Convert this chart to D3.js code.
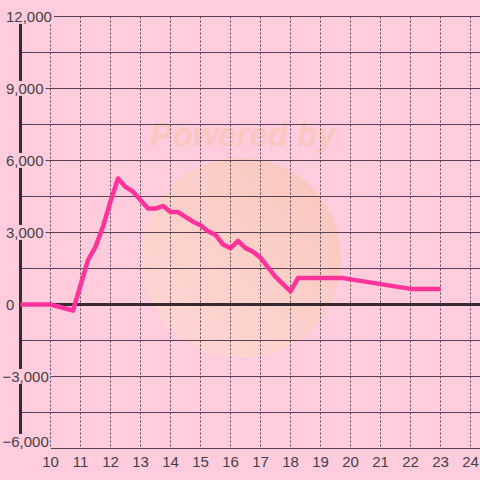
<!DOCTYPE html>
<html><head><meta charset="utf-8">
<script src="https://cdn.jsdelivr.net/npm/d3@7"></script>
<style>html,body{margin:0;padding:0;background:#ffccdd;}svg{display:block;}</style>
</head><body>
<svg id="c" width="480" height="480"></svg>
<script>
const hours = [9, 10, 10.75, 11.25, 11.5, 11.75, 12, 12.25, 12.5, 12.75, 13, 13.25, 13.5, 13.75, 14, 14.25, 14.5, 14.75, 15, 15.25, 15.5, 15.75, 16, 16.25, 16.5, 16.75, 17, 17.25, 17.5, 18, 18.25, 19.75, 20.75, 22, 23];
const values = [0, 0, -250, 1850, 2400, 3250, 4300, 5250, 4900, 4700, 4350, 4000, 4000, 4100, 3850, 3850, 3650, 3450, 3300, 3050, 2900, 2500, 2350, 2650, 2350, 2200, 1950, 1550, 1150, 550, 1100, 1100, 900, 650, 650];
const xTicks = [10, 11, 12, 13, 14, 15, 16, 17, 18, 19, 20, 21, 22, 23, 24];
const yGrid = [12000, 10500, 9000, 7500, 6000, 4500, 3000, 1500, 0, -1500, -3000, -4500, -6000];
const yLabels = [12000, 9000, 6000, 3000, 0, -3000, -6000];

const svg = d3.select("#c");
const x = d3.scaleLinear().domain([9, 10]).range([20.5, 50.5]);
const y = d3.scaleLinear().domain([-6000, 12000]).range([448.5, 16.5]);
const gridCol = "#5a4252";
const textCol = "#454045";
const font = "'Liberation Sans', Arial, sans-serif";
const fmt = d3.format(",");

// watermark
const defs = svg.append("defs");
const lg = defs.append("linearGradient").attr("id","wm").attr("x1","0").attr("y1","1").attr("x2","1").attr("y2","0");
lg.append("stop").attr("offset","0").attr("stop-color","#ffe2cc").attr("stop-opacity",0.5);
lg.append("stop").attr("offset","1").attr("stop-color","#f3c2a6").attr("stop-opacity",0.6);
svg.append("circle").attr("cx",241).attr("cy",258).attr("r",100).attr("fill","url(#wm)");
svg.append("text").attr("x",243).attr("y",146).attr("text-anchor","middle")
  .attr("font-family",font).attr("font-weight","bold").attr("font-style","italic")
  .attr("font-size",33).attr("fill","#f8c4b4").attr("opacity",0.7).text("Powered by");

// vertical dotted grid
svg.append("g").selectAll("line").data(xTicks).join("line")
  .attr("x1", d => x(d)).attr("x2", d => x(d))
  .attr("y1", y(12000)).attr("y2", y(-6000))
  .attr("stroke", gridCol).attr("stroke-width", 1).attr("stroke-dasharray", "2,2");

// y axis
svg.append("line").attr("x1",20.5).attr("x2",20.5).attr("y1",y(12000)).attr("y2",y(-6000))
  .attr("stroke","#352a30").attr("stroke-width",3);

// y labels with backgrounds
const labelEnds = {};
const yl = svg.append("g").attr("font-family",font).attr("font-size","15px");
yLabels.forEach(v => {
  const ly = v === -6000 ? y(v) - 7 : y(v);
  const t = yl.append("text").attr("y", ly).attr("dy","0.36em").attr("fill",textCol)
    .attr("x", v < 0 ? 2.5 : 6).attr("text-anchor","start").text(fmt(v));
  const b = t.node().getBBox();
  labelEnds[v] = b.x + b.width;
  yl.insert("rect","text").attr("x",b.x).attr("y",b.y+1).attr("width",b.width).attr("height",b.height-2).attr("fill","#ffccdd");
});

// horizontal grid
svg.insert("g","g").selectAll("line").data(yGrid).join("line")
  .attr("x1", d => (d in labelEnds && d !== 0) ? labelEnds[d] + 2 : 20)
  .attr("x2", 480)
  .attr("y1", d => y(d)).attr("y2", d => y(d))
  .attr("stroke", gridCol).attr("stroke-width", 1);

// zero line
svg.append("line").attr("x1",20).attr("x2",480).attr("y1",y(0)).attr("y2",y(0))
  .attr("stroke","#352a30").attr("stroke-width",3);

// x labels
svg.append("g").selectAll("text").data(xTicks).join("text")
  .attr("x", d => x(d)).attr("y", 462).attr("dy","0.36em").attr("text-anchor","middle")
  .attr("font-family",font).attr("font-size","15px").attr("fill",textCol)
  .text(d => d);

// data line
const pts = hours.map((h,i) => [h, values[i]]);
svg.append("path").datum(pts)
  .attr("d", d3.line().x(d => x(d[0])).y(d => y(d[1])))
  .attr("fill","none").attr("stroke","#ff3399").attr("stroke-width",4.5)
  .attr("stroke-linejoin","round").attr("stroke-linecap","butt");
</script>
</body></html>
